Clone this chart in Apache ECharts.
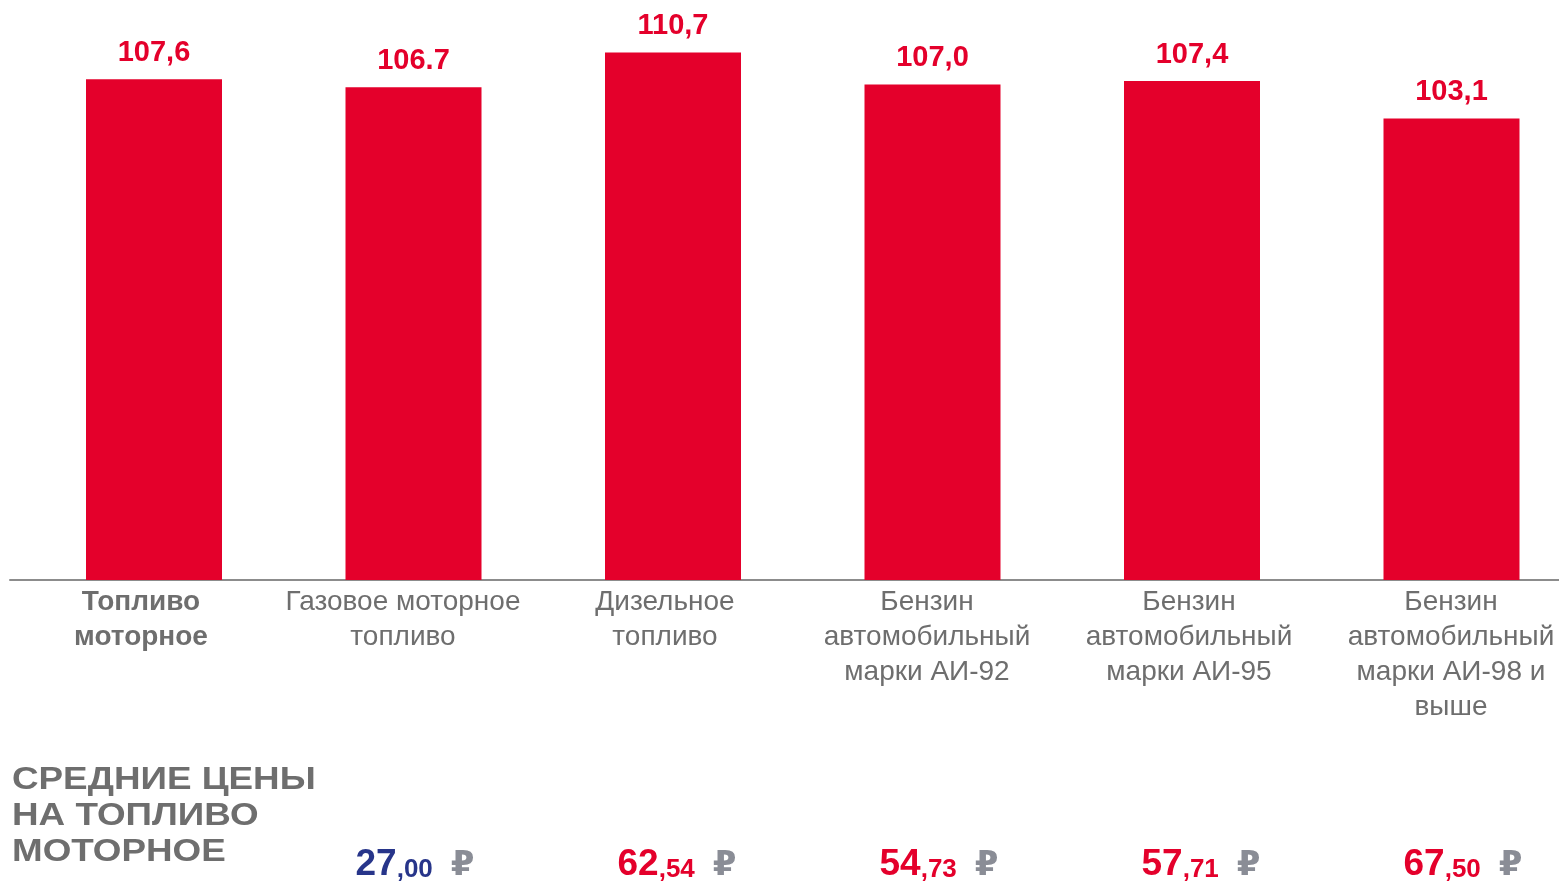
<!DOCTYPE html>
<html>
<head>
<meta charset="utf-8">
<script src="https://cdn.jsdelivr.net/npm/echarts@6/dist/echarts.min.js"></script>
<style>html,body{margin:0;padding:0;background:#fff;overflow:hidden;width:1559px;height:886px}#c{width:1600px;height:886px}</style>
</head>
<body>
<div id="c"></div>
<script>
const categories = [
  'Топливо\nмоторное',
  'Газовое моторное\nтопливо',
  'Дизельное\nтопливо',
  'Бензин\nавтомобильный\nмарки АИ-92',
  'Бензин\nавтомобильный\nмарки АИ-95',
  'Бензин\nавтомобильный\nмарки АИ-98 и\nвыше'
];
const indexValues = [107.6, 106.7, 110.7, 107.0, 107.4, 103.1];
const valueLabels = ['107,6', '106.7', '110,7', '107,0', '107,4', '103,1'];
const prices = ['', '27,00', '62,54', '54,73', '57,71', '67,50'];
const titleText = 'СРЕДНИЕ ЦЕНЫ\nНА ТОПЛИВО\nМОТОРНОЕ';

const RED = '#E4002B', GREY = '#6e6e6e', NAVY = '#27358a', RUB = '#8a8d96';
const FONT = 'Liberation Sans';

const chart = echarts.init(document.getElementById('c'));
chart.setOption({
  animation: false,
  textStyle: { fontFamily: FONT },
  graphic: [{
    type: 'text', x: 12, y: 762, scaleX: 1.15,
    style: { text: titleText, fontFamily: FONT, fontSize: 32, lineHeight: 36, fontWeight: 'bold', fill: GREY }
  }],
  grid: [
    { left: 24.25, width: 1557, top: 15, bottom: 306 },
    { left: 10, width: 1572, top: 15, bottom: 306 }
  ],
  xAxis: [
    { type: 'category', gridIndex: 0, data: categories, show: false },
    {
      type: 'category', gridIndex: 1, data: categories,
      axisLine: { show: true, lineStyle: { color: '#8c8c8c', width: 2 } },
      axisTick: { show: false },
      axisLabel: {
        interval: 0, margin: 5, fontFamily: FONT,
        formatter: (v, i) => (i === 0 ? '{b|' + v + '}' : '{n|' + v + '}'),
        rich: {
          b: { fontFamily: FONT, fontSize: 28, lineHeight: 35, color: GREY, fontWeight: 'bold' },
          n: { fontFamily: FONT, fontSize: 28, lineHeight: 35, color: GREY }
        }
      }
    },
    {
      type: 'category', gridIndex: 1, data: prices, position: 'bottom', offset: 266,
      axisLine: { show: false }, axisTick: { show: false },
      axisLabel: {
        interval: 0, margin: 0, padding: [0, 0, 0, 24],
        formatter: (v, i) => {
          if (!v) return '';
          const p = v.split(',');
          const k = i === 1 ? 'n' : 'r';
          return '{' + k + 'i|' + p[0] + '}{' + k + 'd|,' + p[1] + '}{rub|₽}';
        },
        rich: {
          ni: { fontFamily: FONT, fontSize: 37, lineHeight: 37, fontWeight: 'bold', color: NAVY, verticalAlign: 'bottom' },
          nd: { fontFamily: FONT, fontSize: 26, lineHeight: 26, fontWeight: 'bold', color: NAVY, verticalAlign: 'bottom' },
          ri: { fontFamily: FONT, fontSize: 37, lineHeight: 37, fontWeight: 'bold', color: RED, verticalAlign: 'bottom' },
          rd: { fontFamily: FONT, fontSize: 26, lineHeight: 26, fontWeight: 'bold', color: RED, verticalAlign: 'bottom' },
          rub: { fontFamily: 'DejaVu Sans', fontSize: 34, lineHeight: 37, fontWeight: 'bold', color: RUB, verticalAlign: 'bottom', padding: [0, 0, 0, 18] }
        }
      }
    }
  ],
  yAxis: [
    { type: 'value', gridIndex: 0, min: 50, max: 115, show: false },
    { type: 'value', gridIndex: 1, min: 50, max: 115, show: false }
  ],
  series: [{
    type: 'bar', xAxisIndex: 0, yAxisIndex: 0,
    data: indexValues, barWidth: 136,
    itemStyle: { color: RED },
    label: {
      show: true, position: 'top', distance: 12,
      formatter: p => valueLabels[p.dataIndex],
      fontFamily: FONT, fontSize: 29, lineHeight: 29, fontWeight: 'bold', color: RED
    }
  }]
});
</script>
</body>
</html>
